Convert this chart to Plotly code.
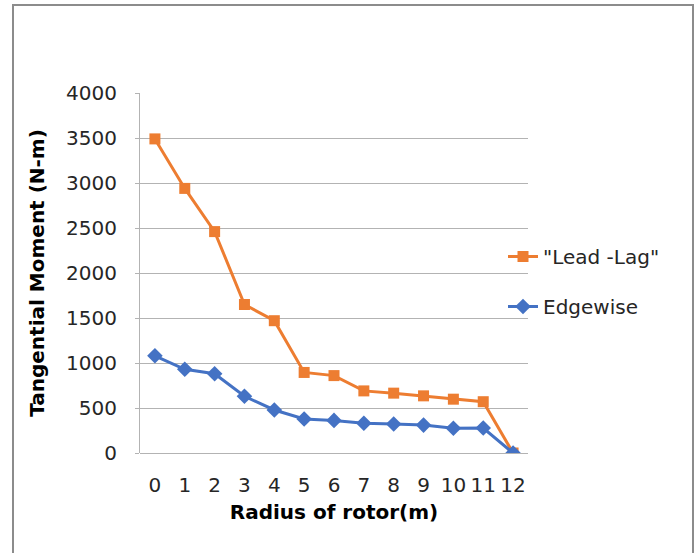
import plotly.graph_objects as go

radius = list(range(13))
tick_labels = [str(r) for r in radius]
lead_lag = [3490, 2940, 2460, 1650, 1470, 895, 860, 690, 665, 635, 598, 570, 0]
edgewise = [1080, 930, 880, 630, 478, 378, 362, 330, 322, 310, 275, 278, 0]

FONT = "DejaVu Sans"
W, H = 699, 553
L, R, T, B = 140, 171, 93, 100
pw = W - L - R
ph = H - T - B

fig = go.Figure()
fig.add_trace(go.Scatter(
    x=radius, y=lead_lag, name='"Lead -Lag"', mode="lines+markers",
    legendgroup="a",
    line=dict(color="#ED7D31", width=3),
    marker=dict(symbol="square", size=11, color="#ED7D31"),
))
fig.add_trace(go.Scatter(
    x=radius, y=edgewise, name="Edgewise", mode="lines+markers",
    legendgroup="b",
    line=dict(color="#4472C4", width=3),
    marker=dict(symbol="diamond", size=12, color="#4472C4"),
))

def px_x(px):
    return (px - L) / pw

def px_y(py):
    return (H - B - py) / ph

fig.add_shape(type="rect", xref="paper", yref="paper",
              x0=px_x(13), x1=px_x(693), y0=px_y(600), y1=px_y(5),
              line=dict(color="#8c8c8c", width=2), layer="below")

fig.update_layout(
    width=W, height=H,
    margin=dict(l=L, r=R, t=T, b=B),
    paper_bgcolor="white", plot_bgcolor="white",
    font=dict(family=FONT, size=20, color="#262626"),
    showlegend=True,
    legend=dict(x=px_x(503), y=px_y(237), xanchor="left", yanchor="top",
                bgcolor="rgba(0,0,0,0)", font=dict(size=20, family=FONT, color="#262626"),
                tracegroupgap=21),
    xaxis=dict(
        range=[-0.5, 12.5], tickmode="array", tickvals=radius, ticktext=tick_labels,
        showgrid=False, zeroline=False, showline=False, ticks="",
        ticklabelstandoff=18,
        tickfont=dict(size=20, family=FONT, color="#262626"),
        title=dict(text="<b>Radius of rotor(m)</b>", font=dict(size=20, family=FONT, color="#000"), standoff=8),
    ),
    yaxis=dict(
        range=[0, 4000], tickmode="linear", tick0=0, dtick=500,
        showgrid=True, gridcolor="#b3b3b3", gridwidth=1,
        zeroline=True, zerolinecolor="#b3b3b3", zerolinewidth=1,
        showline=True, linecolor="#b3b3b3", linewidth=1,
        ticks="outside", ticklen=4, tickcolor="#b3b3b3",
        ticklabelstandoff=14,
        tickfont=dict(size=20, family=FONT, color="#262626"),
        title=dict(text="<b>Tangential Moment (N-m)</b>", font=dict(size=20, family=FONT, color="#000"), standoff=16),
    ),
)

fig.write_html("out.html")
